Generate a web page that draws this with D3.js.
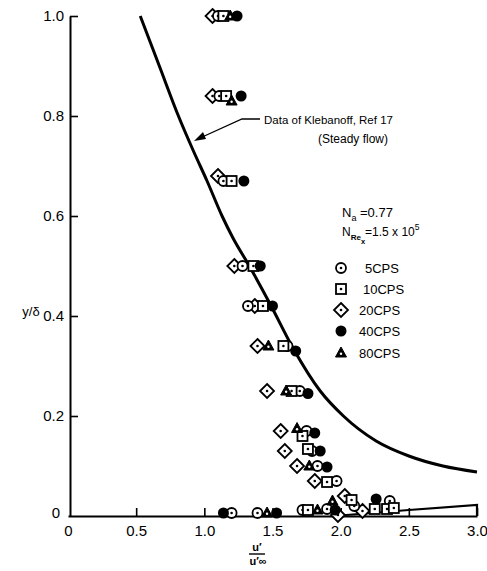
<!DOCTYPE html>
<html>
<head>
<meta charset="utf-8">
<script src="https://cdn.jsdelivr.net/npm/d3@7"></script>
<style>
  html, body { margin: 0; padding: 0; background: #fff; }
  svg { display: block; font-family: "Liberation Sans", Arial, sans-serif; }
</style>
</head>
<body>
<svg id="chart" width="487" height="571"></svg>
<script>
// Intensity of fluctuations u'/u'∞ against y/δ for several oscillation frequencies
const xTicks = [0, 0.5, 1.0, 1.5, 2.0, 2.5, 3.0];
const xTickLabels = ["0", "0.5", "1.0", "1.5", "2.0", "2.5", "3.0"];
const yTicks = [0, 0.2, 0.4, 0.6, 0.8, 1.0];
const yTickLabels = ["0", "0.2", "0.4", "0.6", "0.8", "1.0"];

// Klebanoff steady-flow distribution (outer curve) and near-wall rise
const klebanoff = [
  [0.53, 1.0], [0.67, 0.9], [0.81, 0.8], [0.92, 0.73], [1.02, 0.67], [1.13, 0.6],
  [1.21, 0.556], [1.33, 0.5], [1.49, 0.42], [1.65, 0.336], [1.85, 0.25], [2.02, 0.2],
  [2.26, 0.15], [2.5, 0.12], [2.75, 0.1], [3.0, 0.088]
];
const klebanoffWall = [[1.95, 0.0], [2.5, 0.012], [3.0, 0.022], [3.0, 0.0]];

// Measured points per frequency: [u'/u'∞, y/δ]
const cps5 = [
  [1.10, 1.0], [1.11, 0.84], [1.14, 0.67], [1.28, 0.50], [1.32, 0.42], [1.61, 0.34],
  [1.70, 0.25], [1.75, 0.17], [1.79, 0.13], [1.83, 0.10], [1.97, 0.07], [2.10, 0.02],
  [2.36, 0.03], [1.20, 0.006], [1.39, 0.006], [1.72, 0.012], [1.90, 0.014]
];
const cps10 = [
  [1.14, 1.0], [1.16, 0.84], [1.20, 0.67], [1.36, 0.50], [1.43, 0.42], [1.58, 0.34],
  [1.64, 0.25], [1.72, 0.16], [1.76, 0.134], [1.90, 0.068], [2.08, 0.032], [1.76, 0.012],
  [2.25, 0.014], [2.34, 0.014], [2.39, 0.016]
];
const cps20 = [
  [1.06, 1.0], [1.06, 0.84], [1.10, 0.68], [1.22, 0.50], [1.37, 0.42], [1.39, 0.34],
  [1.46, 0.25], [1.56, 0.17], [1.59, 0.13], [1.68, 0.10], [1.81, 0.07], [2.03, 0.04],
  [2.16, 0.01], [1.98, 0.002]
];
const cps40 = [
  [1.24, 1.0], [1.27, 0.84], [1.29, 0.67], [1.41, 0.50], [1.50, 0.42], [1.67, 0.33],
  [1.76, 0.245], [1.81, 0.166], [1.85, 0.13], [1.90, 0.098], [2.26, 0.034], [1.14, 0.006],
  [1.53, 0.006], [1.96, 0.012]
];
const cps80 = [
  [1.19, 1.0], [1.20, 0.83], [1.47, 0.34], [1.60, 0.25], [1.68, 0.175], [1.77, 0.10],
  [1.94, 0.03], [1.46, 0.006], [1.83, 0.012]
];
const legendLabels = ["5CPS", "10CPS", "20CPS", "40CPS", "80CPS"];
const legendShapes = ["circle", "square", "diamond", "filled", "triangle"];

const svg = d3.select("#chart");
const x = d3.scaleLinear().domain([0, 3]).range([68, 477]);
const y = d3.scaleLinear().domain([0, 1]).range([516, 16]);

// Axes with inward ticks
const xAxis = d3.axisBottom(x).tickValues(xTicks).tickSize(-8).tickSizeOuter(0).tickPadding(9)
  .tickFormat((d, i) => xTickLabels[i]);
const yAxis = d3.axisLeft(y).tickValues(yTicks).tickSize(-8).tickSizeOuter(0).tickPadding(6)
  .tickFormat((d, i) => yTickLabels[i]);

const gx = svg.append("g").attr("transform", "translate(0,516)").call(xAxis);
const gy = svg.append("g").attr("transform", "translate(70,0)").call(yAxis);
[gx, gy].forEach(g => {
  g.select(".domain").attr("stroke", "#000").attr("stroke-width", 2);
  g.selectAll(".tick line").attr("stroke", "#000").attr("stroke-width", 1.6);
  g.selectAll(".tick text").attr("fill", "#000").attr("font-size", 15);
});
gy.selectAll(".tick").filter(d => d === 0).select("line").remove();
gx.selectAll(".tick").filter(d => d === 0).select("line").remove();
gy.selectAll(".tick").filter(d => d === 0).select("text").attr("x", -10).attr("dy", "0.1em");

// Curves
const line = d3.line().x(d => x(d[0])).y(d => y(d[1])).curve(d3.curveMonotoneX);
svg.append("path").datum(klebanoff).attr("d", line)
  .attr("fill", "none").attr("stroke", "#000").attr("stroke-width", 3);
svg.append("path").datum(klebanoffWall)
  .attr("d", d3.line().x(d => x(d[0])).y(d => y(d[1])))
  .attr("fill", "none").attr("stroke", "#000").attr("stroke-width", 2.2);

// Marker drawing
function marker(g, shape) {
  if (shape === "circle") {
    g.append("circle").attr("r", 5).attr("fill", "#fff").attr("stroke", "#000").attr("stroke-width", 1.8);
    g.append("circle").attr("r", 1.3).attr("fill", "#000");
  } else if (shape === "square") {
    g.append("rect").attr("x", -5).attr("y", -5).attr("width", 10).attr("height", 10)
      .attr("fill", "#fff").attr("stroke", "#000").attr("stroke-width", 1.8);
    g.append("circle").attr("r", 1.3).attr("fill", "#000");
  } else if (shape === "diamond") {
    g.append("path").attr("d", "M0,-7L7,0L0,7L-7,0Z")
      .attr("fill", "#fff").attr("stroke", "#000").attr("stroke-width", 1.8);
    g.append("circle").attr("r", 1.3).attr("fill", "#000");
  } else if (shape === "filled") {
    g.append("circle").attr("r", 5.5).attr("fill", "#000");
  } else if (shape === "triangle") {
    g.append("path").attr("d", "M0,-6L5.5,4L-5.5,4Z").attr("fill", "#000")
      .attr("stroke", "#000").attr("stroke-width", 1).attr("stroke-linejoin", "round");
    g.append("circle").attr("cy", 0.8).attr("r", 1.2).attr("fill", "#fff");
  }
}

const seriesList = [
  { data: cps20, shape: "diamond" },
  { data: cps5, shape: "circle" },
  { data: cps10, shape: "square" },
  { data: cps80, shape: "triangle" },
  { data: cps40, shape: "filled" }
];
seriesList.forEach(s => {
  svg.append("g").selectAll("g").data(s.data).join("g")
    .attr("transform", d => `translate(${x(d[0])},${y(d[1])})`)
    .each(function () { marker(d3.select(this), s.shape); });
});

// Axis titles
svg.append("text").attr("x", 31).attr("y", 316).attr("text-anchor", "middle")
  .attr("font-size", 13).text("y/δ");
const frac = svg.append("g").attr("transform", "translate(257,0)")
  .attr("font-size", 11).attr("font-weight", "bold").attr("text-anchor", "middle");
frac.append("text").attr("x", 0).attr("y", 551).text("u′");
frac.append("line").attr("x1", -8).attr("x2", 8).attr("y1", 554).attr("y2", 554)
  .attr("stroke", "#000").attr("stroke-width", 1.4);
frac.append("text").attr("x", 1).attr("y", 565).text("u′∞");

// Annotation for the steady-flow curve
svg.append("text").attr("x", 264).attr("y", 124).attr("font-size", 11.5).text("Data of Klebanoff, Ref 17");
svg.append("text").attr("x", 318).attr("y", 143).attr("font-size", 12).text("(Steady flow)");
svg.append("path").attr("d", "M260,119L242,119L200,138")
  .attr("fill", "none").attr("stroke", "#000").attr("stroke-width", 1.3);
svg.append("path").attr("d", "M194,141L203,132L206,139Z").attr("fill", "#000");

// Flow parameters
const p1 = svg.append("text").attr("x", 342).attr("y", 217).attr("font-size", 13);
p1.append("tspan").text("N");
p1.append("tspan").attr("font-size", 9).attr("dy", 4).text("a");
p1.append("tspan").attr("dy", -4).text(" =0.77");
const p2 = svg.append("text").attr("x", 342).attr("y", 236).attr("font-size", 12);
p2.append("tspan").text("N");
p2.append("tspan").attr("font-size", 8).attr("dy", 4).attr("font-weight", "bold").text("Re");
p2.append("tspan").attr("font-size", 7.5).attr("dy", 4).attr("font-weight", "bold").text("x");
p2.append("tspan").attr("dy", -8).text("=1.5 x 10");
p2.append("tspan").attr("font-size", 8.5).attr("dy", -6).text("5");

// Legend
const legendY = [268, 289, 310, 331, 353];
legendLabels.forEach((lab, i) => {
  const g = svg.append("g").attr("transform", `translate(341,${legendY[i]})`);
  marker(g, legendShapes[i]);
  svg.append("text").attr("x", i === 0 ? 365 : (i === 1 ? 363 : 359)).attr("y", legendY[i] + 5)
    .attr("font-size", 13).text(lab);
});
</script>
</body>
</html>
